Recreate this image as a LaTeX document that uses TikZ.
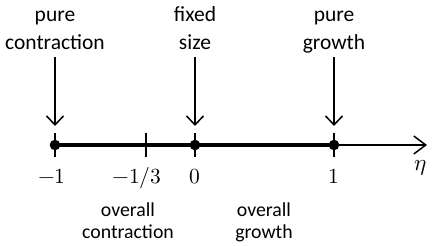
\documentclass[tikz,border=0pt]{standalone}
\usepackage{fontspec}
\usepackage{unicode-math}
\setmainfont{Carlito}
\setmathfont{Latin Modern Math}
\usetikzlibrary{arrows.meta}
\begin{document}
\begin{tikzpicture}[x=1pt,y=-1pt,
  toplabel/.style={anchor=south,align=center,inner sep=0pt,text depth=0pt,font=\fontsize{21.5}{28.3}\selectfont},
  botlabel/.style={anchor=base,align=center,inner sep=0pt,font=\fontsize{19.8}{21.8}\selectfont},
  numlabel/.style={anchor=base,inner sep=0pt,font=\fontsize{21.5}{24}\selectfont},
  dotnode/.style={circle,fill=black,inner sep=0pt,minimum size=10.6pt},
  tickmark/.style={line width=1.6pt},
  pointer/.style={line width=1.5pt,-{Straight Barb[length=9pt,width=17pt,line width=1.5pt]}},
  axisline/.style={line width=1.5pt,-{Straight Barb[length=12pt,width=18pt,line width=1.5pt]}}]
\useasboundingbox (0,0) rectangle (436,246);
% axis points
\coordinate (pm1) at (55,145);
\coordinate (pm3) at (146,145);
\coordinate (p0) at (195,145);
\coordinate (p1) at (334,145);
\coordinate (pend) at (427,145);
% ticks
\foreach \p in {pm1,pm3,p0,p1}{
  \draw[tickmark] ([yshift=12pt]\p) -- ([yshift=-11.5pt]\p);
}
% thick segment and thin arrow
\draw[line width=4pt] (pm1) -- (p1);
\draw[axisline] (p1) -- (pend);
% dots
\node[dotnode] (d1) at (pm1) {};
\node[dotnode] (d0) at (p0) {};
\node[dotnode] (d2) at (p1) {};
% top labels
\node[toplabel] (t1) at (55,50) {pure\\contraction};
\node[toplabel] (t2) at (195,50) {fixed\\size};
\node[toplabel] (t3) at (334,50) {pure\\growth};
\draw[pointer] ([yshift=-7pt]t1.south) -- ([yshift=19pt]d1.center);
\draw[pointer] ([yshift=-7pt]t2.south) -- ([yshift=19pt]d0.center);
\draw[pointer] ([yshift=-7pt]t3.south) -- ([yshift=19pt]d2.center);
% number labels
\node[numlabel] (n1) at (52,183) {$-1$};
\node[numlabel] (n2) at (137,183) {$-1/3$};
\node[numlabel] (n3) at (195,183) {$0$};
\node[numlabel] (n4) at (334,183) {$1$};
\node[numlabel,font=\fontsize{23}{24}\selectfont] (eta) at (421,170) {$\eta$};
% bottom labels
\node[botlabel] (b1) at (128,238.3) {overall\\contraction};
\node[botlabel] (b2) at (264,238.3) {overall\\growth};
\end{tikzpicture}
\end{document}
